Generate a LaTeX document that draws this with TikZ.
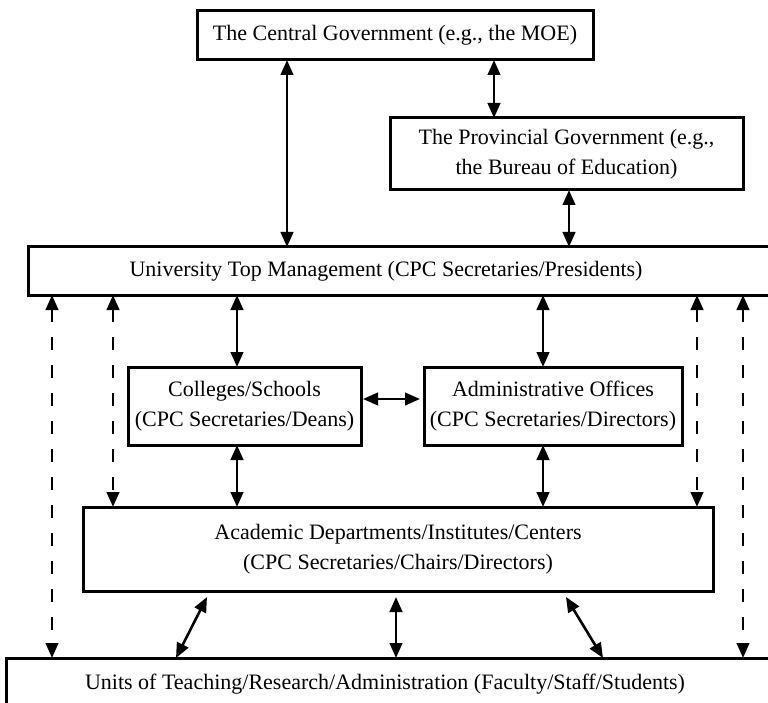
\documentclass[tikz,border=0pt]{standalone}
\usepackage{fontspec}
\setmainfont{Liberation Serif}
\usetikzlibrary{arrows.meta}
\begin{document}
\begin{tikzpicture}[x=1pt,y=-1pt,
box/.style={
% The shape:
rectangle,
draw=black,
line width=3pt,
anchor=north west,
outer sep=0pt,
inner sep=0pt,
align=center,
font=\fontsize{22}{30}\selectfont
},
boxtext/.style={
font=\fontsize{22}{30}\selectfont
},
link/.style={
line width=2.6pt,
{Triangle[length=15pt,width=12.5pt]}-{Triangle[length=15pt,width=12.5pt]}
},
dlink/.style={
link,
dash pattern=on 13pt off 15pt
}
]
\useasboundingbox (0,0) rectangle (768,703);
% Boxes:
\node (central) [box, minimum width=396pt, minimum height=49pt] at (197,11) {The Central Government (e.g., the MOE)};
\node (prov) [box, minimum width=353pt, minimum height=72pt] at (390,118) {The Provincial Government (e.g.,\\the Bureau of Education)};
\node (top) [box, minimum width=800pt, minimum height=48pt] at (28,247) {};
\node (toptext) [boxtext] at (386,271) {University Top Management (CPC Secretaries/Presidents)};
\node (coll) [box, minimum width=233pt, minimum height=78pt] at (128,367) {Colleges/Schools\\(CPC Secretaries/Deans)};
\node (admin) [box, minimum width=258pt, minimum height=78pt] at (424,367) {Administrative Offices\\(CPC Secretaries/Directors)};
\node (acad) [box, minimum width=630pt, minimum height=84pt] at (83,507) {Academic Departments/Institutes/Centers\\(CPC Secretaries/Chairs/Directors)};
\node (units) [box, minimum width=800pt, minimum height=90pt] at (6,658) {};
\node (unitstext) [boxtext] at (385,684) {Units of Teaching/Research/Administration (Faculty/Staff/Students)};
% Arrow positions:
\coordinate (xa) at (287,0);
\coordinate (xb) at (494,0);
\coordinate (xc) at (569,0);
\coordinate (xd) at (237,0);
\coordinate (xe) at (543,0);
\coordinate (xf) at (52,0);
\coordinate (xg) at (113,0);
\coordinate (xh) at (697,0);
\coordinate (xi) at (743,0);
\coordinate (xj) at (396,0);
\coordinate (yh) at (0,399);
\coordinate (d1) at (207,597);
\coordinate (e1) at (176,0);
\coordinate (d2) at (566,597);
\coordinate (e2) at (603,0);
\draw[link] (central.south -| xa) -- (top.north -| xa);
\draw[link] (central.south -| xb) -- (prov.north -| xb);
\draw[link] (prov.south -| xc) -- (top.north -| xc);
\draw[link] (top.south -| xd) -- (coll.north -| xd);
\draw[link] (top.south -| xe) -- (admin.north -| xe);
\draw[link] (coll.south -| xd) -- (acad.north -| xd);
\draw[link] (admin.south -| xe) -- (acad.north -| xe);
\draw[link,shorten <=2pt,shorten >=4pt] (coll.east |- yh) -- (admin.west |- yh);
% Dashed links:
\draw[dlink] (top.south -| xf) -- (units.north -| xf);
\draw[dlink] (top.south -| xg) -- (acad.north -| xg);
\draw[dlink] (top.south -| xh) -- (acad.north -| xh);
\draw[dlink] (top.south -| xi) -- (units.north -| xi);
% To the units:
\draw[link] (d1) -- (units.north -| e1);
\draw[link,shorten <=6pt] (acad.south -| xj) -- (units.north -| xj);
\draw[link] (d2) -- (units.north -| e2);
\end{tikzpicture}
\end{document}
